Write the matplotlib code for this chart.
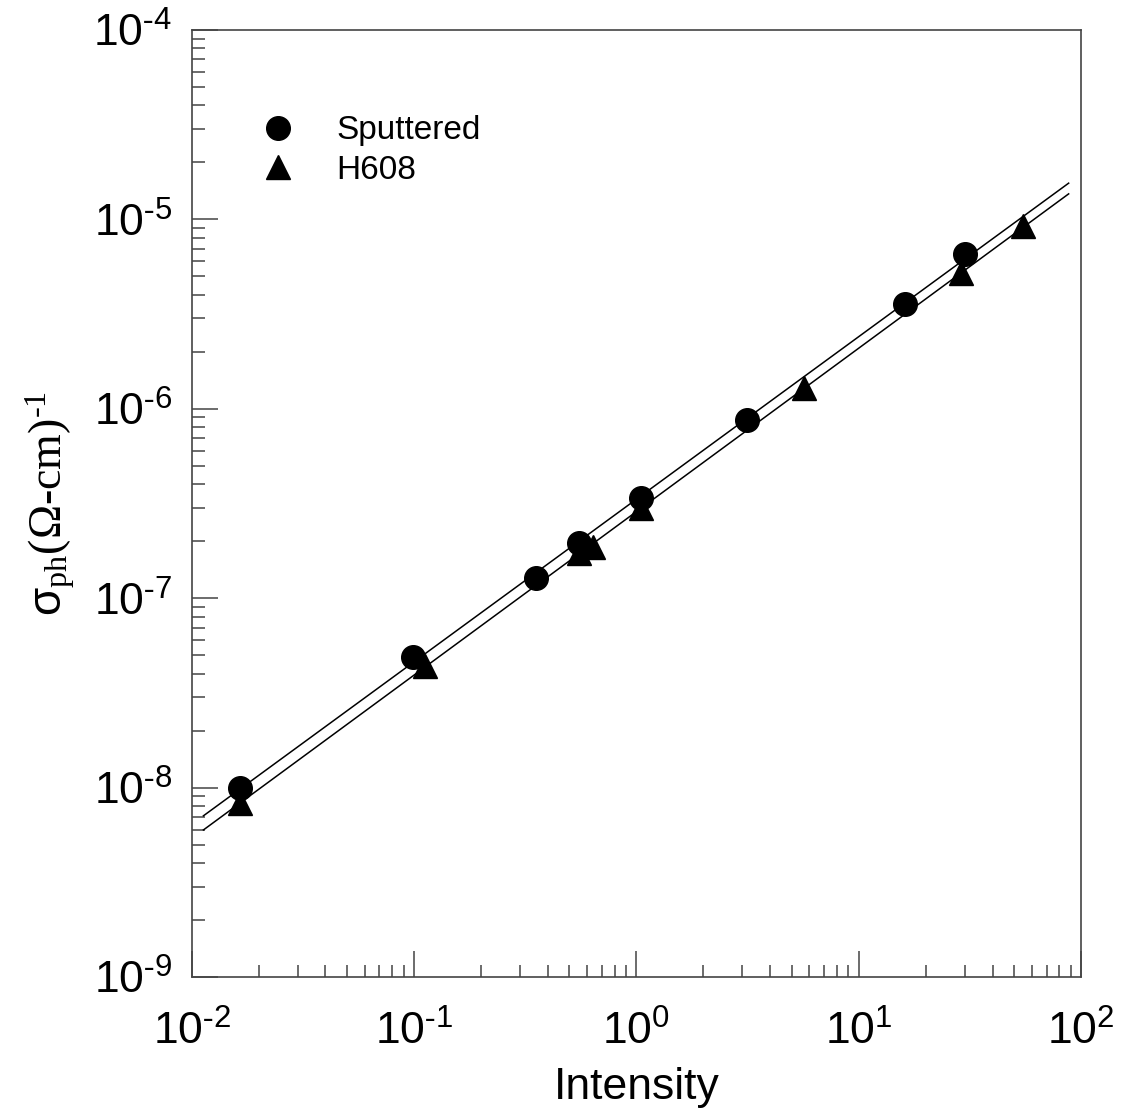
import numpy as np
import matplotlib
matplotlib.use("Agg")
import matplotlib.pyplot as plt
from matplotlib.ticker import LogLocator, FixedLocator, NullFormatter

plt.rcParams['font.family'] = ['Liberation Sans', 'DejaVu Sans']
plt.rcParams['mathtext.fontset'] = 'custom'
plt.rcParams['mathtext.rm'] = 'Liberation Serif'
plt.rcParams['mathtext.it'] = 'Liberation Serif:italic'
plt.rcParams['mathtext.sf'] = 'Liberation Sans'

# data
sput_x = [0.0165, 0.099, 0.355, 0.55, 1.05, 3.15, 16.2, 30.0]
sput_y = [1.0e-8, 4.9e-8, 1.28e-7, 1.95e-7, 3.38e-7, 8.7e-7, 3.57e-6, 6.6e-6]
h608_x = [0.0165, 0.112, 0.55, 0.64, 1.05, 5.7, 29.0, 55.0]
h608_y = [8.3e-9, 4.4e-8, 1.73e-7, 1.87e-7, 2.98e-7, 1.29e-6, 5.2e-6, 9.2e-6]
fit_range = [0.0113, 88.0]

x_major = [1e-2, 1e-1, 1e0, 1e1, 1e2]
x_labels = ['-2', '-1', '0', '1', '2']
y_major = [1e-9, 1e-8, 1e-7, 1e-6, 1e-5, 1e-4]
y_labels = ['-9', '-8', '-7', '-6', '-5', '-4']


def power_label(e):
    # hyphen instead of a minus sign, as in the original
    if e.startswith('-'):
        return r'$\mathsf{10^{\text{-}%s}}$' % e[1:]
    return r'$\mathsf{10^{%s}}$' % e


fig = plt.figure(figsize=(11.33, 11.18), dpi=100)
ax = fig.add_axes([0.1691, 0.1261, 0.7850, 0.8471])

xf = np.array(fit_range)
for xs, ys in [(sput_x, sput_y), (h608_x, h608_y)]:
    k, b = np.polyfit(np.log10(xs), np.log10(ys), 1)
    ax.plot(xf, 10 ** (k * np.log10(xf) + b), color='black', lw=1.1, zorder=2)

ax.plot(sput_x, sput_y, 'o', color='black', ms=17, ls='none', label='Sputtered', zorder=3)
ax.plot(h608_x, h608_y, '^', color='black', ms=17, ls='none', label='H608', zorder=3)

ax.set_xscale('log')
ax.set_yscale('log')
ax.set_xlim(1e-2, 1e2)
ax.set_ylim(1e-9, 1e-4)

ax.xaxis.set_major_locator(FixedLocator(x_major))
ax.set_xticklabels([power_label(s) for s in x_labels])
ax.yaxis.set_major_locator(FixedLocator(y_major))
ax.set_yticklabels([power_label(s) for s in y_labels])
ax.xaxis.set_minor_locator(LogLocator(base=10, subs=np.arange(2, 10), numticks=20))
ax.yaxis.set_minor_locator(LogLocator(base=10, subs=np.arange(2, 10), numticks=20))
ax.xaxis.set_minor_formatter(NullFormatter())
ax.yaxis.set_minor_formatter(NullFormatter())

ax.tick_params(which='both', direction='in', top=False, right=False,
               color='#444444', width=1.1)
ax.tick_params(which='major', length=19, labelsize=32)
ax.tick_params(which='minor', length=9)
ax.tick_params(axis='x', which='major', pad=24)
ax.tick_params(axis='y', which='major', pad=14)
for sp in ax.spines.values():
    sp.set_color('#444444')
    sp.set_linewidth(1.2)

ax.set_xlabel('Intensity', fontsize=32, labelpad=10)
ax.set_ylabel(r'$\mathsf{\sigma}_{\rm ph}(\Omega\text{-}{\rm cm})^{\text{-}1}$',
              fontsize=33, labelpad=12)

ax.legend(loc='upper left', bbox_to_anchor=(0.054, 0.924), frameon=False,
          fontsize=24, handletextpad=1.0, labelspacing=0.25, borderaxespad=0,
          handlelength=1.5)

fig.savefig('out.png', dpi=100)
